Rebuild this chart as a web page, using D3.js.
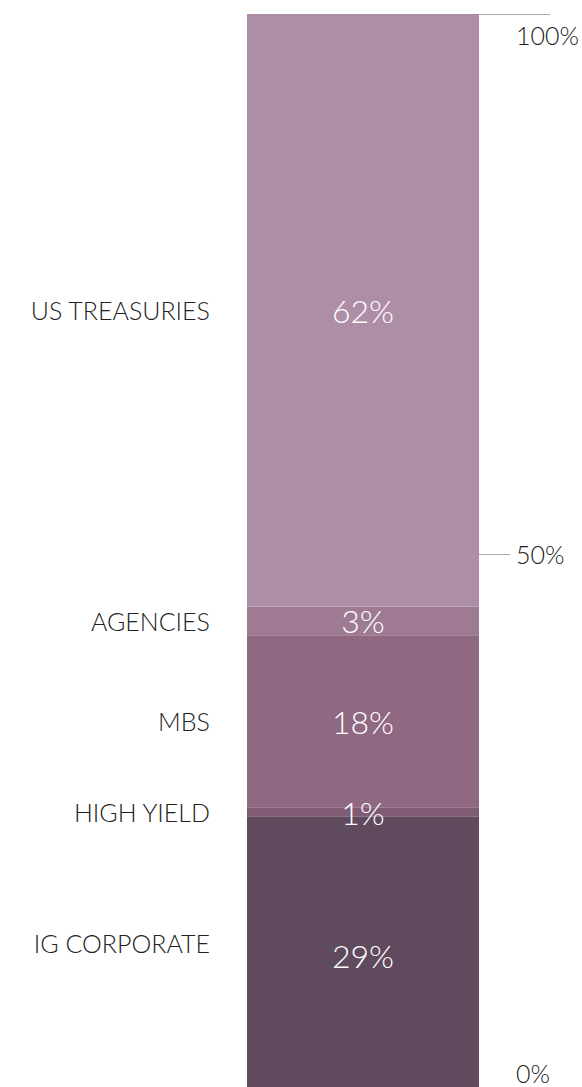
<!DOCTYPE html>
<html>
<head>
<meta charset="utf-8">
<script src="https://cdn.jsdelivr.net/npm/d3@7"></script>
<style>
  html, body { margin: 0; padding: 0; background: #ffffff; }
  svg { display: block; }
  text { font-family: "Lato", "Open Sans", sans-serif; font-weight: 300; }
</style>
</head>
<body>
<svg id="chart" width="582" height="1087"></svg>
<script>
// Data (bottom to top of the stack)
const categories = ["IG CORPORATE", "HIGH YIELD", "MBS", "AGENCIES", "US TREASURIES"];
const values = [29, 1, 18, 3, 62];
const colors = ["#5f4a5e", "#7f5c74", "#8f6882", "#9e7a93", "#ae8da7"];
const tickValues = [0, 50, 100];
const tickLabels = ["0%", "50%", "100%"];

const svg = d3.select("#chart");

const total = d3.sum(values);
// stacked share of 100%
let acc = 0;
const segs = values.map((v, i) => {
  const s = { cat: categories[i], value: v, color: colors[i], y0: acc / total * 100 };
  acc += v;
  s.y1 = acc / total * 100;
  return s;
});

const y = d3.scaleLinear().domain([0, 100]).range([1094, 14]);
const x = d3.scaleBand().domain(["bar"]).range([247, 479]).padding(0);

// bars
svg.append("g").selectAll("rect").data(segs).join("rect")
  .attr("x", x("bar"))
  .attr("width", x.bandwidth())
  .attr("y", d => y(d.y1))
  .attr("height", d => y(d.y0) - y(d.y1))
  .attr("fill", d => d.color);

// value labels inside bar
svg.append("g").selectAll("text").data(segs).join("text")
  .attr("x", x("bar") + x.bandwidth() / 2)
  .attr("y", d => (y(d.y0) + y(d.y1)) / 2)
  .attr("text-anchor", "middle")
  .attr("dominant-baseline", "central")
  .attr("fill", "#ffffff")
  .attr("font-size", 32)
  .text(d => d.value + "%");

// category labels on left
const labelBottom = 1070;
svg.append("g").selectAll("text").data(segs).join("text")
  .attr("x", 210)
  .attr("y", d => (Math.min(y(d.y0), labelBottom) + y(d.y1)) / 2)
  .attr("text-anchor", "end")
  .attr("dominant-baseline", "central")
  .attr("fill", "#222222")
  .attr("font-size", 25)
  .text(d => d.cat);

// right axis
const axisX = 479;
const ticks = svg.append("g");
ticks.append("line")
  .attr("x1", axisX).attr("x2", 550)
  .attr("y1", y(100) + 0.5).attr("y2", y(100) + 0.5)
  .attr("stroke", "#aaaaaa").attr("stroke-width", 1);
ticks.append("line")
  .attr("x1", axisX).attr("x2", 510)
  .attr("y1", y(50) + 0.5).attr("y2", y(50) + 0.5)
  .attr("stroke", "#aaaaaa").attr("stroke-width", 1);

const labelShift = v => v === 100 ? 21 : (v === 0 ? -21 : 0);
ticks.selectAll("text").data(tickValues).join("text")
  .attr("x", 516)
  .attr("y", v => y(v) + labelShift(v))
  .attr("dominant-baseline", "central")
  .attr("fill", "#222222")
  .attr("font-size", 25)
  .text((v, i) => tickLabels[i]);
</script>
</body>
</html>
